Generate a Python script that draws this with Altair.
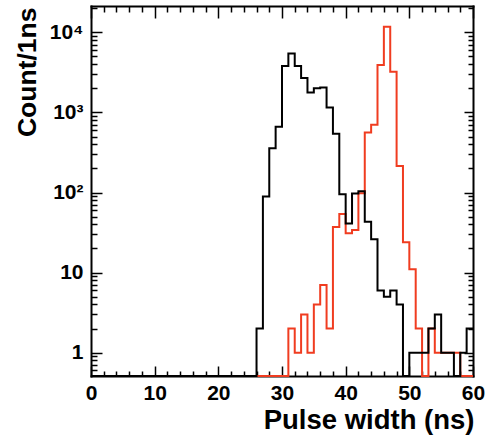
import altair as alt
import pandas as pd

# ---- data (1 ns bins, 0..60 ns) ----
bin_edges = [0, 1, 2, 3, 4, 5, 6, 7, 8, 9, 10, 11, 12, 13, 14, 15, 16, 17, 18, 19,
             20, 21, 22, 23, 24, 25, 26, 27, 28, 29, 30, 31, 32, 33, 34, 35, 36, 37, 38, 39,
             40, 41, 42, 43, 44, 45, 46, 47, 48, 49, 50, 51, 52, 53, 54, 55, 56, 57, 58, 59]
black_counts = [0, 0, 0, 0, 0, 0, 0, 0, 0, 0, 0, 0, 0, 0, 0, 0, 0, 0, 0, 0,
                0, 0, 0, 0, 0, 0, 2, 89, 356, 664, 3800, 5450, 3800, 2680, 1770, 2000, 2050, 1150, 540, 95,
                41, 97, 104, 43, 26, 6, 5, 6, 4, 0, 1, 1, 1, 2, 3, 1, 1, 0, 1, 2]
red_counts = [0, 0, 0, 0, 0, 0, 0, 0, 0, 0, 0, 0, 0, 0, 0, 0, 0, 0, 0, 0,
              0, 0, 0, 0, 0, 0, 0, 0, 0, 0, 0, 2, 1, 3, 1, 4, 7, 2, 37, 54,
              31, 34, 98, 560, 700, 3900, 11700, 3220, 215, 24, 11, 2, 0, 2, 1, 1, 1, 1, 0, 0]
x_end = 60

x_major = [0, 10, 20, 30, 40, 50, 60]
x_minor = [v for v in range(2, 60, 2) if v % 10 != 0]
y_major = [1, 10, 100, 1000, 10000]
y_lo, y_hi = 0.512, 21300
y_minor = [m * 10 ** k for k in range(-1, 5) for m in range(2, 10) if y_lo <= m * 10 ** k <= y_hi]


def hist_df(counts):
    return pd.DataFrame({"edge": bin_edges + [x_end], "count": counts + [counts[-1]]})


black_df = hist_df(black_counts)
red_df = hist_df(red_counts)

FONT = "Liberation Sans"
xs = alt.Scale(domain=[0, 60], nice=False, zero=False)
ys = alt.Scale(type="log", domain=[y_lo, y_hi], nice=False, clamp=True)


def tick_axis(orient, values, size):
    return alt.Axis(orient=orient, values=values, ticks=True, tickSize=size, tickWidth=1.5,
                    tickColor="black", offset=-size, labels=False, domain=False, grid=False,
                    title=None)


def frame_axis(orient):
    return alt.Axis(orient=orient, ticks=False, labels=False, domain=True, domainWidth=2,
                    domainColor="black", domainCap="square", grid=False, title=None)


x_label_axis = alt.Axis(orient="bottom", values=x_major, ticks=False, tickSize=0, labels=True,
                        labelFont=FONT, labelFontWeight="bold", labelFontSize=21, labelColor="black",
                        labelPadding=6, labelFlush=False, labelOverlap=False,
                        domain=True, domainWidth=2, domainColor="black", domainCap="square", grid=False,
                        title="Pulse width (ns)", titleFont=FONT, titleFontWeight="bold",
                        titleFontSize=27.5, titleColor="black", titleAnchor="end", titleAlign="right",
                        titleBaseline="alphabetic", titleX=383, titleY=52)

y_label_axis = alt.Axis(orient="left", values=y_major, ticks=False, tickSize=0, labels=True,
                        labelExpr="datum.value == 1 ? '1' : datum.value == 10 ? '10' : datum.value == 100 ? '10\u00b2' : datum.value == 1000 ? '10\u00b3' : '10\u2074'",
                        labelFont=FONT, labelFontWeight="bold", labelFontSize=21, labelColor="black",
                        labelPadding=8, labelFlush=False, labelOverlap=False, labelBaseline="middle",
                        domain=True, domainWidth=2, domainColor="black", domainCap="square", grid=False,
                        title="Count/1ns", titleFont=FONT, titleFontWeight="bold", titleFontSize=26.5,
                        titleColor="black", titleAngle=270, titleAlign="right", titleBaseline="alphabetic",
                        titleX=-56, titleY=1)


def layer(df, color, xaxis, yaxis, opacity=1.0):
    return alt.Chart(df).transform_calculate(
        yv="max(datum.count, 0.1)"
    ).mark_line(interpolate="step-after", color=color, strokeWidth=2, opacity=opacity,
                strokeJoin="miter").encode(
        x=alt.X("edge:Q", scale=xs, axis=xaxis),
        y=alt.Y("yv:Q", scale=ys, axis=yaxis),
    )


chart = alt.layer(
    layer(red_df, "#f03c20", x_label_axis, y_label_axis),
    layer(black_df, "black", tick_axis("bottom", x_major, 10), tick_axis("left", y_major, 11)),
    layer(black_df, "black", tick_axis("bottom", x_minor, 5), tick_axis("left", y_minor, 6), 0),
    layer(black_df, "black", tick_axis("top", x_major, 12), tick_axis("right", y_major, 9), 0),
    layer(black_df, "black", tick_axis("top", x_minor, 6), tick_axis("right", y_minor, 5), 0),
    layer(black_df, "black", frame_axis("top"), frame_axis("right"), 0),
).resolve_axis(x="independent", y="independent").properties(
    width=382, height=370,
    autosize=alt.AutoSizeParams(type="none"),
    padding={"left": 91, "top": 6, "right": 16, "bottom": 65},
).configure_view(stroke=None).configure(font=FONT, background="white")

chart.save("out.html", embed_options={"renderer": "svg", "actions": False})
